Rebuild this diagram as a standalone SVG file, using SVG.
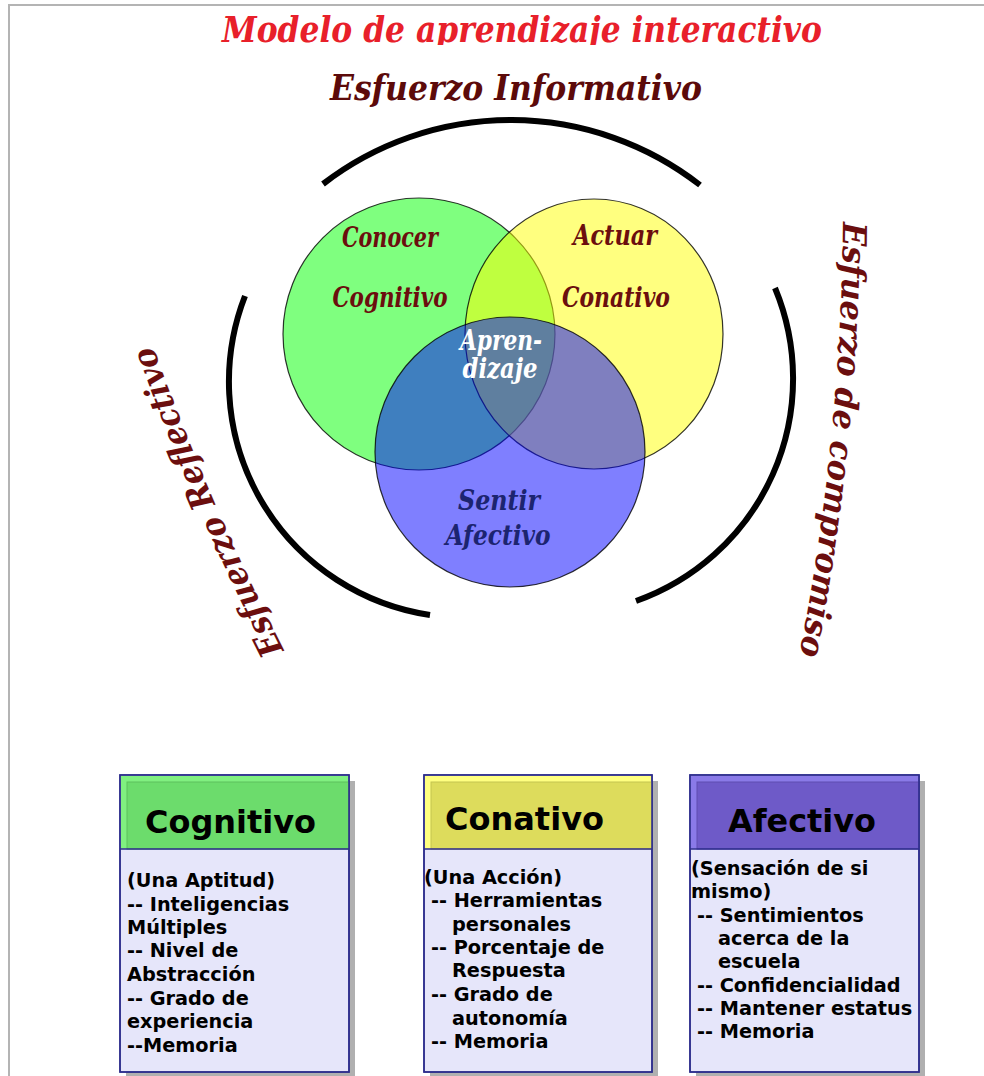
<svg xmlns="http://www.w3.org/2000/svg" width="984" height="1076" viewBox="0 0 984 1076">
<defs>
<style>
.ser{font-family:"DejaVu Serif Condensed","DejaVu Serif","Liberation Serif",serif;font-stretch:condensed;font-weight:bold;font-style:italic}
.lbl{font-size:27px;fill:#6b0e0e;text-anchor:middle}
.arc{fill:none;stroke:#000;stroke-width:6}
.side{font-size:33px;fill:#6b0e0e}
.box{fill:#e6e6fa;stroke:#2c2c8c;stroke-width:1.5}
.shadow{fill:#b0b0b0}
.hd{font-family:"DejaVu Sans","Liberation Sans",sans-serif;font-weight:bold;font-size:32px;fill:#000}
.bt{font-family:"DejaVu Sans","Liberation Sans",sans-serif;font-weight:bold;font-size:19.3px;fill:#000}
</style>
<clipPath id="titleClip"><rect x="0" y="0" width="984" height="45"/></clipPath>
<path id="leftPath" d="M 284 650 Q 208 501 152 343"/>
<path id="rightPath" d="M 843 222 Q 841 439 800 652"/>
</defs>
<rect x="0" y="0" width="984" height="1076" fill="#fff"/>
<g id="frame" fill="none" stroke="#b4b4b4" stroke-width="2">
<line x1="8" y1="5" x2="984" y2="5"/>
<line x1="9" y1="5" x2="9" y2="1076"/>
</g>
<g id="title" clip-path="url(#titleClip)">
<text class="ser" x="222" y="42" font-size="35" fill="#e8202a" textLength="600" lengthAdjust="spacingAndGlyphs">Modelo de aprendizaje interactivo</text>
</g>
<g id="esfuerzo-informativo">
<text class="ser" x="330" y="100" font-size="36" fill="#5c0a0a" textLength="372" lengthAdjust="spacingAndGlyphs">Esfuerzo Informativo</text>
</g>
<g id="arcs">
<path class="arc" d="M 323 184 A 308 308 0 0 1 700 185"/>
<path class="arc" d="M 245 296 A 236 236 0 0 0 430 615"/>
<path class="arc" d="M 775 288 A 236 236 0 0 1 636 601"/>
</g>
<g id="esfuerzo-reflectivo">
<text class="ser side" textLength="332" lengthAdjust="spacingAndGlyphs"><textPath href="#leftPath">Esfuerzo Reflectivo</textPath></text>
</g>
<g id="esfuerzo-compromiso">
<text class="ser side" textLength="436" lengthAdjust="spacingAndGlyphs"><textPath href="#rightPath">Esfuerzo de compromiso</textPath></text>
</g>
<g id="venn" stroke="#000" stroke-width="1.2" stroke-opacity="0.8">
<circle id="cognitivo" cx="419" cy="334" r="136" fill="#00ff00" fill-opacity="0.5"/>
<ellipse id="conativo" cx="594" cy="334" rx="129" ry="135" fill="#ffff00" fill-opacity="0.5"/>
<circle id="afectivo" cx="510" cy="452" r="135" fill="#0000ff" fill-opacity="0.5"/>
</g>
<g id="venn-labels">
<text class="ser lbl" x="390" y="247" textLength="96" lengthAdjust="spacingAndGlyphs">Conocer</text>
<text class="ser lbl" x="390" y="307" textLength="115" lengthAdjust="spacingAndGlyphs">Cognitivo</text>
<text class="ser lbl" x="615" y="245" textLength="84" lengthAdjust="spacingAndGlyphs">Actuar</text>
<text class="ser lbl" x="616" y="307" textLength="108" lengthAdjust="spacingAndGlyphs">Conativo</text>
<text class="ser lbl" x="501" y="350" style="fill:#fff" textLength="82" lengthAdjust="spacingAndGlyphs">Apren-</text>
<text class="ser lbl" x="500" y="378" style="fill:#fff" textLength="75" lengthAdjust="spacingAndGlyphs">dizaje</text>
<text class="ser lbl" x="499" y="510" style="fill:#1c2470" textLength="82" lengthAdjust="spacingAndGlyphs">Sentir</text>
<text class="ser lbl" x="498" y="545" style="fill:#1c2470" textLength="105" lengthAdjust="spacingAndGlyphs">Afectivo</text>
</g>
<g id="box-cognitivo">
<rect class="shadow" x="126" y="781" width="229" height="297"/>
<rect class="box" x="120" y="775" width="229" height="297"/>
<rect x="120.75" y="775.75" width="227.5" height="73" fill="#80f080"/>
<rect x="127" y="782" width="221.5" height="67" fill="#6cdc6c" stroke="#5cbf5c" stroke-width="1"/>
<rect x="120" y="775" width="229" height="297" fill="none" stroke="#2c2c8c" stroke-width="1.5"/>
<line x1="120" y1="849" x2="349" y2="849" stroke="#2c2c8c" stroke-width="1.5"/>
<text class="hd" x="145" y="833" textLength="171" lengthAdjust="spacingAndGlyphs">Cognitivo</text>
<text class="bt" x="127" y="887">(Una Aptitud)</text>
<text class="bt" x="127" y="911">-- Inteligencias</text>
<text class="bt" x="127" y="934">Múltiples</text>
<text class="bt" x="127" y="957">-- Nivel de</text>
<text class="bt" x="127" y="981">Abstracción</text>
<text class="bt" x="127" y="1005">-- Grado de</text>
<text class="bt" x="127" y="1028">experiencia</text>
<text class="bt" x="127" y="1052">--Memoria</text>
</g>
<g id="box-conativo">
<rect class="shadow" x="430" y="781" width="228" height="297"/>
<rect class="box" x="424" y="775" width="228" height="297"/>
<rect x="424.75" y="775.75" width="226.5" height="73" fill="#ffff80"/>
<rect x="431" y="782" width="220.5" height="67" fill="#dddc5c" stroke="#c4c350" stroke-width="1"/>
<rect x="424" y="775" width="228" height="297" fill="none" stroke="#2c2c8c" stroke-width="1.5"/>
<line x1="424" y1="849" x2="652" y2="849" stroke="#2c2c8c" stroke-width="1.5"/>
<text class="hd" x="445" y="830" textLength="159" lengthAdjust="spacingAndGlyphs">Conativo</text>
<text class="bt" x="424" y="884">(Una Acción)</text>
<text class="bt" x="431" y="907">-- Herramientas</text>
<text class="bt" x="452" y="931">personales</text>
<text class="bt" x="431" y="954">-- Porcentaje de</text>
<text class="bt" x="452" y="977">Respuesta</text>
<text class="bt" x="431" y="1001">-- Grado de</text>
<text class="bt" x="452" y="1025">autonomía</text>
<text class="bt" x="431" y="1048">-- Memoria</text>
</g>
<g id="box-afectivo">
<rect class="shadow" x="696" y="781" width="229" height="297"/>
<rect class="box" x="690" y="775" width="229" height="297"/>
<rect x="690.75" y="775.75" width="227.5" height="73" fill="#8a7ae8"/>
<rect x="697" y="782" width="221.5" height="67" fill="#6e5ac8" stroke="#5e4cb0" stroke-width="1"/>
<rect x="690" y="775" width="229" height="297" fill="none" stroke="#2c2c8c" stroke-width="1.5"/>
<line x1="690" y1="849" x2="919" y2="849" stroke="#2c2c8c" stroke-width="1.5"/>
<text class="hd" x="728" y="832" textLength="148" lengthAdjust="spacingAndGlyphs">Afectivo</text>
<text class="bt" x="691" y="875">(Sensación de si</text>
<text class="bt" x="691" y="898">mismo)</text>
<text class="bt" x="697" y="922">-- Sentimientos</text>
<text class="bt" x="718" y="945">acerca de la</text>
<text class="bt" x="718" y="968">escuela</text>
<text class="bt" x="697" y="992">-- Confidencialidad</text>
<text class="bt" x="697" y="1015">-- Mantener estatus</text>
<text class="bt" x="697" y="1038">-- Memoria</text>
</g>
</svg>
